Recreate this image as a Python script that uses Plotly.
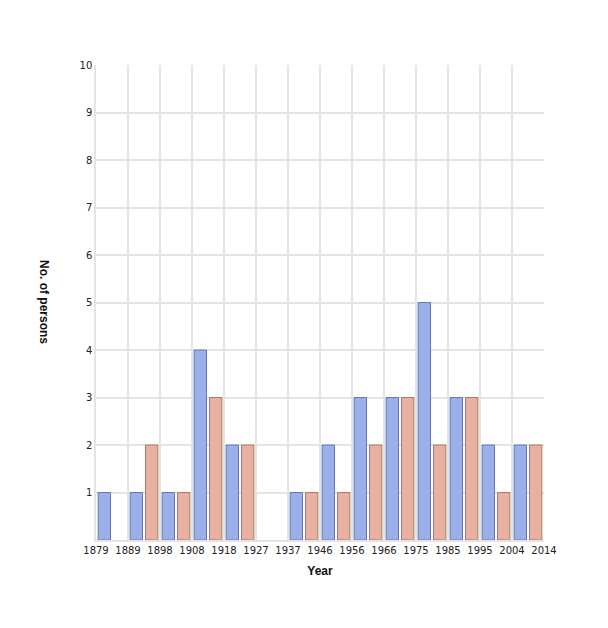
import plotly.graph_objects as go

year_labels = ["1879", "1889", "1898", "1908", "1918", "1927", "1937", "1946",
               "1956", "1966", "1975", "1985", "1995", "2004", "2014"]
series_a = [1, 1, 1, 4, 2, 0, 1, 2, 3, 3, 5, 3, 2, 2]
series_b = [0, 2, 1, 3, 2, 0, 1, 1, 2, 3, 2, 3, 1, 2]
y_ticks = [1, 2, 3, 4, 5, 6, 7, 8, 9, 10]

n = len(series_a)
x_pos = list(range(n))
tick_pos = [i - 0.5 for i in range(len(year_labels))]

grid = "#e4e4e4"
fig = go.Figure()
fig.add_trace(go.Bar(x=x_pos, y=series_a, name="A",
                     marker=dict(color="#9bb0e9",
                                 line=dict(color="#6478b0",
                                           width=[1 if v else 0 for v in series_a]))))
fig.add_trace(go.Bar(x=x_pos, y=series_b, name="B",
                     marker=dict(color="#e8b19d",
                                 line=dict(color="#a87a6a",
                                           width=[1 if v else 0 for v in series_b]))))

fig.update_layout(
    width=608, height=628,
    margin=dict(l=88, r=72, t=57, b=96),
    paper_bgcolor="white", plot_bgcolor="white",
    barmode="group", bargap=0.04, bargroupgap=0.195,
    showlegend=False, hovermode=False,
    font=dict(family="DejaVu Sans", size=10, color="#222222"),
    xaxis=dict(range=[-0.5, n - 0.5], tickvals=tick_pos, ticktext=year_labels,
               showgrid=True, gridcolor=grid, gridwidth=1.5,
               showline=True, linecolor=grid, linewidth=1.5,
               zeroline=False, ticks="", ticklen=0,
               title=dict(text="<b>Year</b>", standoff=12,
                          font=dict(family="Liberation Sans", size=12, color="#111111"))),
    yaxis=dict(range=[0, 10], tickvals=y_ticks,
               showgrid=True, gridcolor=grid, gridwidth=1.5,
               showline=True, linecolor=grid, linewidth=1.5,
               zeroline=False, ticks="", ticklen=0),
    annotations=[dict(text="<b>No. of persons</b>", textangle=90,
                      xref="paper", yref="paper", x=-0.115, y=0.5,
                      xanchor="center", yanchor="middle", showarrow=False,
                      font=dict(family="Liberation Sans", size=12, color="#111111"))],
)

fig.write_html("out.html")
